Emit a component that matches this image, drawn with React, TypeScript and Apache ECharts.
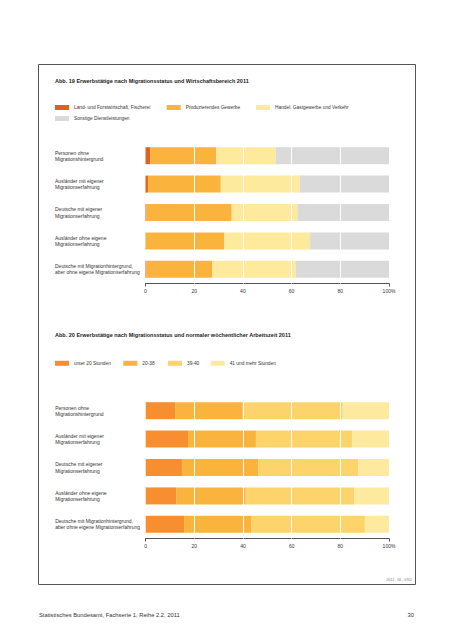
import React, { useEffect, useRef } from "react";
import * as echarts from "echarts";

const categories = [
  "Personen ohne\nMigrationshintergrund",
  "Ausländer mit eigener\nMigrationserfahrung",
  "Deutsche mit eigener\nMigrationserfahrung",
  "Ausländer ohne eigene\nMigrationserfahrung",
  "Deutsche mit Migrationhintergrund,\naber ohne eigene Migrationserfahrung",
];

const title1 = "Abb. 19 Erwerbstätige nach Migrationsstatus und Wirtschaftsbereich 2011";
const title2 = "Abb. 20 Erwerbstätige nach Migrationsstatus und normaler wöchentlicher Arbeitszeit 2011";

const sectorNames = [
  "Land- und Forstwirtschaft, Fischerei",
  "Produzierendes Gewerbe",
  "Handel, Gastgewerbe und Verkehr",
  "Sonstige Dienstleistungen",
];
const landForst = [2.0, 1.0, 0.4, 0.1, 0.4];
const produzierend = [27.1, 29.9, 35.0, 32.3, 27.1];
const handel = [24.4, 32.4, 27.0, 35.2, 34.2];
const sonstige = [46.5, 36.7, 37.6, 32.4, 38.3];

const hoursNames = ["unter 20 Stunden", "20-38", "39-40", "41 und mehr Stunden"];
const unter20 = [12.1, 17.4, 14.9, 12.5, 15.8];
const h20bis38 = [27.8, 27.9, 31.3, 28.6, 27.5];
const h39bis40 = [41.1, 39.5, 41.2, 44.7, 46.8];
const h41mehr = [19.0, 15.2, 12.6, 14.2, 9.9];

const xTicks = [0, 20, 40, 60, 80, 100];

const sectorColors = ["#e0611b", "#fab33c", "#feea9d", "#dadada"];
const hoursColors = ["#f78f31", "#fab33c", "#fdd46b", "#feea9f"];

const FONT = "'Liberation Sans', Arial, sans-serif";

export default function App() {
  const ref = useRef<HTMLDivElement>(null);

  useEffect(() => {
    if (!ref.current) return;
    const chart = echarts.init(ref.current, undefined, { renderer: "svg" });

    const gridLines = {
      silent: true,
      symbol: "none",
      label: { show: false },
      lineStyle: { color: "#ffffff", width: 1, type: "solid" },
      data: [20, 40, 60, 80].map((v) => ({ xAxis: v })),
    };

    const makeX = (gridIndex: number) => ({
      type: "value",
      gridIndex,
      min: 0,
      max: 100,
      interval: 20,
      splitLine: { show: false },
      axisLine: { show: true, lineStyle: { color: "#555", width: 1 } },
      axisTick: { show: true, customValues: [0, 100], length: 3, lineStyle: { color: "#555" } },
      axisLabel: {
        fontSize: 5,
        color: "#333",
        margin: 5,
        fontFamily: FONT,
        formatter: (v: number) => (v === 100 ? "100%" : String(v)),
      },
    });

    const makeY = (gridIndex: number) => ({
      type: "category",
      gridIndex,
      inverse: true,
      data: categories,
      axisLine: { show: false },
      axisTick: { show: false },
      axisLabel: {
        align: "left",
        margin: 90.5,
        fontSize: 5,
        lineHeight: 6.3,
        color: "#333",
        fontFamily: FONT,
      },
    });

    const topData = [landForst, produzierend, handel, sonstige];
    const bottomData = [unter20, h20bis38, h39bis40, h41mehr];

    const series: any[] = [];
    sectorNames.forEach((n, i) => {
      series.push({
        type: "bar",
        name: n,
        stack: "top",
        xAxisIndex: 0,
        yAxisIndex: 0,
        barWidth: 17,
        itemStyle: { color: sectorColors[i] },
        data: topData[i],
        z: i === 3 ? 3 : 2,
        markLine: i === 3 ? gridLines : undefined,
      });
    });
    hoursNames.forEach((n, i) => {
      series.push({
        type: "bar",
        name: n,
        stack: "bottom",
        xAxisIndex: 1,
        yAxisIndex: 1,
        barWidth: 17,
        itemStyle: { color: hoursColors[i] },
        data: bottomData[i],
        z: i === 3 ? 3 : 2,
        markLine: i === 3 ? gridLines : undefined,
      });
    });

    const legendPos: [string, number, number, string][] = [
      [sectorNames[0], 55, 107.5, sectorColors[0]],
      [sectorNames[1], 166.7, 107.5, sectorColors[1]],
      [sectorNames[2], 256, 107.5, sectorColors[2]],
      [sectorNames[3], 55, 118.5, sectorColors[3]],
      [hoursNames[0], 55, 363.3, hoursColors[0]],
      [hoursNames[1], 123.3, 363.3, hoursColors[1]],
      [hoursNames[2], 168, 363.3, hoursColors[2]],
      [hoursNames[3], 210.7, 363.3, hoursColors[3]],
    ];

    const legends = legendPos.map(([name, x, y]) => ({
      data: [name],
      left: x,
      top: y - 3,
      padding: 0,
      itemWidth: 14,
      itemHeight: 5,
      icon: "rect",
      selectedMode: false,
      textStyle: { fontSize: 4.8, color: "#333", fontFamily: FONT, lineHeight: 6 },
    }));

    chart.setOption({
      animation: false,
      textStyle: { fontFamily: FONT },
      title: [
        {
          text: title1,
          left: 55,
          top: 78,
          padding: 0,
          textStyle: { fontSize: 5.5, fontWeight: "bold", color: "#222", fontFamily: FONT },
        },
        {
          text: title2,
          left: 55,
          top: 332,
          padding: 0,
          textStyle: { fontSize: 5.5, fontWeight: "bold", color: "#222", fontFamily: FONT },
        },
      ],
      legend: legends,
      grid: [
        { left: 145.5, right: 63, top: 141.5, height: 142 },
        { left: 145.7, right: 63, top: 396.5, height: 142 },
      ],
      xAxis: [makeX(0), makeX(1)],
      yAxis: [makeY(0), makeY(1)],
      series,
      graphic: [
        {
          type: "rect",
          shape: { x: 38.5, y: 64.5, width: 377, height: 520 },
          style: { fill: "none", stroke: "#555", lineWidth: 1 },
          silent: true,
        },
        {
          type: "text",
          x: 412,
          y: 580,
          style: {
            text: "2012 - 06 - 0702",
            fontSize: 3.5,
            fill: "#777",
            align: "right",
            verticalAlign: "middle",
            fontFamily: FONT,
          },
          silent: true,
        },
        {
          type: "text",
          x: 39,
          y: 615,
          style: {
            text: "Statistisches Bundesamt, Fachserie 1, Reihe 2.2, 2011",
            fontSize: 5.8,
            fill: "#333",
            align: "left",
            verticalAlign: "middle",
            fontFamily: FONT,
          },
          silent: true,
        },
        {
          type: "text",
          x: 414,
          y: 615,
          style: {
            text: "30",
            fontSize: 5.8,
            fill: "#333",
            align: "right",
            verticalAlign: "middle",
            fontFamily: FONT,
          },
          silent: true,
        },
      ],
    });

    return () => chart.dispose();
  }, []);

  return (
    <div
      ref={ref}
      style={{ position: "absolute", left: 0, top: 0, width: 452, height: 640, background: "#fff" }}
    />
  );
}
